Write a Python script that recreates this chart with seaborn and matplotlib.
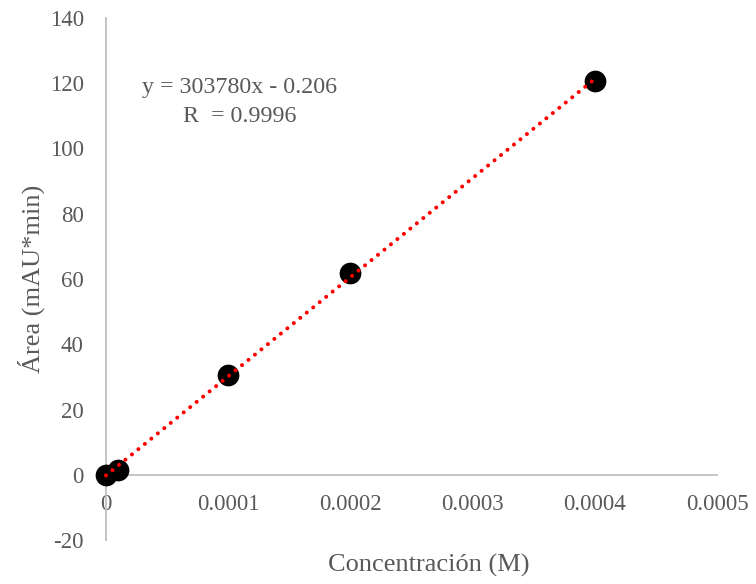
import matplotlib
matplotlib.use("Agg")
import matplotlib.pyplot as plt
import seaborn as sns
import numpy as np
import pandas as pd

# Data
concentracion = [0.0, 0.00001, 0.0001, 0.0002, 0.0004]
area = [0.0, 1.5, 30.7, 61.9, 120.6]
slope = 303780
intercept = -0.206
fit_range = [0.0, 0.0004]
x_ticks = [0, 0.0001, 0.0002, 0.0003, 0.0004, 0.0005]
x_ticklabels = ["0", "0.0001", "0.0002", "0.0003", "0.0004", "0.0005"]
y_ticks = [-20, 0, 20, 40, 60, 80, 100, 120, 140]
y_ticklabels = ["-20", "0", "20", "40", "60", "80", "100", "120", "140"]
eq_text = "y = 303780x - 0.206\nR  = 0.9996"

sns.set_theme(style="white")
plt.rcParams['font.family'] = ['Liberation Serif', 'DejaVu Serif']

TXT = "#595959"
AX = "#bfbfbf"

fig = plt.figure(figsize=(7.56, 5.84), dpi=100)
ax = fig.add_axes([106/756, 1-540/584, (717-106)/756, (540-18)/584])

df = pd.DataFrame({"x": concentracion, "y": area})
sns.scatterplot(data=df, x="x", y="y", ax=ax, s=245, color="black",
                edgecolor="black", linewidth=0, zorder=3, clip_on=False)

fx = np.array(fit_range)
fdf = pd.DataFrame({"x": fx, "y": slope * fx + intercept})
sns.lineplot(data=fdf, x="x", y="y", ax=ax, color="#ff0000", lw=2.9,
             linestyle=(0, (0.01, 2.06)), zorder=4)
for l in ax.get_lines():
    l.set_dash_capstyle("round")
    l.set_clip_on(False)

ax.set_xlim(0, 0.0005)
ax.set_ylim(-20, 140)
ax.set_xticks(x_ticks)
ax.set_xticklabels(x_ticklabels)
ax.set_yticks(y_ticks)
ax.set_yticklabels(y_ticklabels)
ax.set_xlabel("")
ax.set_ylabel("")

for s in ["top", "right"]:
    ax.spines[s].set_visible(False)
ax.spines["bottom"].set_position(("data", 0))
ax.spines["left"].set_position(("data", 0))
for s in ["bottom", "left"]:
    ax.spines[s].set_color(AX)
    ax.spines[s].set_linewidth(1.3)

ax.tick_params(axis="x", length=0, pad=14, labelsize=16.5, labelcolor=TXT)
ax.tick_params(axis="y", length=0, pad=16, labelsize=16.5, labelcolor=TXT)
ax.grid(False)

fig.text(429/756, 1-565/584, "Concentración (M)", ha="center", va="center",
         fontsize=19, color=TXT)
fig.text(31/756, 1-279/584, "Área (mAU*min)", ha="center", va="center",
         rotation=90, fontsize=19, color=TXT)
fig.text(240/756, 1-102/584, eq_text, ha="center", va="center",
         fontsize=17.3, color=TXT, linespacing=1.5, multialignment="center")

fig.savefig("out.png", dpi=100)
